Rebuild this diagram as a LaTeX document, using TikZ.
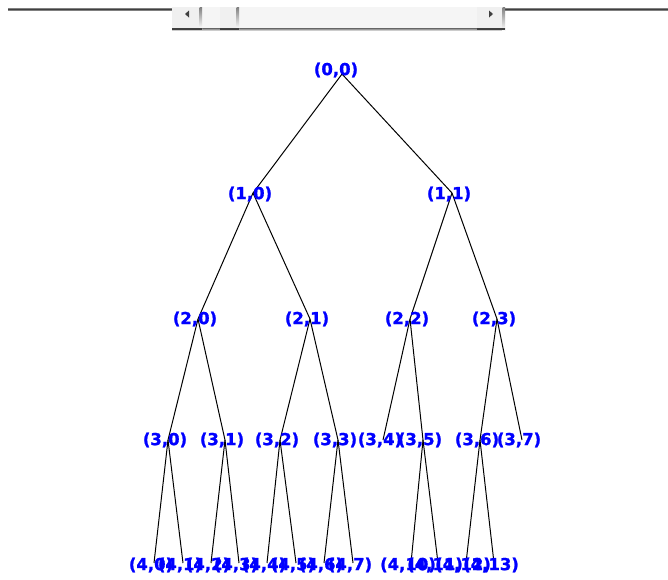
\documentclass[tikz,border=0pt]{standalone}
\usepackage{fontspec}
\newfontfamily\lblfont{DejaVu Sans Bold}[FakeBold=1.2]
\definecolor{lblblue}{RGB}{0,0,255}
\definecolor{track}{RGB}{245,245,245}
\definecolor{btn}{RGB}{240,240,240}
\definecolor{shade}{RGB}{128,128,128}
\definecolor{darkshade}{RGB}{64,64,64}
\begin{document}
\begin{tikzpicture}[x=1pt,y=-1pt,
  lbl/.style={text=lblblue,font=\lblfont\fontsize{16.5}{18}\selectfont,inner sep=0pt,anchor=center},
  edge/.style={draw=black,line width=1pt},
  rule/.style={line width=3pt,draw=shade},
  ruleinner/.style={line width=1.6pt,draw=darkshade},
  sbtn/.style={fill=btn,draw=none},
  arrowtip/.style={fill=darkshade,draw=none}]
\useasboundingbox (0,0) rectangle (668,579);
\fill[white] (0,0) rectangle (668,579);
% top rule and scroll bar
\coordinate (rl0) at (8,9.5);
\coordinate (rl1) at (172,9.5);
\coordinate (rr0) at (505,9.5);
\coordinate (rr1) at (668,9.5);
\draw[rule] (rl0) -- (rl1);
\draw[ruleinner] (rl0) -- (rl1);
\draw[rule] (rr0) -- (rr1);
\draw[ruleinner] (rr0) -- (rr1);
\fill[track] (172,7) rectangle (505,31);
\fill[shade] (172,28.5) rectangle (505,31);
% left button
\fill[sbtn] (172,7) rectangle (202,29);
\fill[shade] (199.5,7) rectangle (202,29);
\fill[darkshade] (172,28) rectangle (202,30);
\fill[arrowtip] (185,14) -- (189,10.5) -- (189,17.5) -- cycle;
% thumb
\fill[sbtn] (220,7) rectangle (239,29);
\fill[shade] (236.5,7) rectangle (239,29);
\fill[darkshade] (220,28) rectangle (239,30);
% right button
\fill[sbtn] (477,7) rectangle (505,29);
\fill[shade] (502.5,7) rectangle (505,31);
\fill[darkshade] (477,28) rectangle (505,30);
\fill[arrowtip] (493,14) -- (489,10.5) -- (489,17.5) -- cycle;

% tree node points
\coordinate (p00) at (342,74);
\coordinate (p10) at (253,193);
\coordinate (p11) at (452,193);
\coordinate (p20) at (198,319);
\coordinate (p21) at (310,319);
\coordinate (p22) at (410,319);
\coordinate (p23) at (497,319);
\coordinate (p30) at (168,440);
\coordinate (p31) at (225,440);
\coordinate (p32) at (280,440);
\coordinate (p33) at (338,440);
\coordinate (p34) at (383,440);
\coordinate (p35) at (423,440);
\coordinate (p36) at (480,440);
\coordinate (p37) at (522,440);
\coordinate (p40) at (154,563);
\coordinate (p41) at (183,563);
\coordinate (p42) at (211,563);
\coordinate (p43) at (239,563);
\coordinate (p44) at (267,563);
\coordinate (p45) at (296,563);
\coordinate (p46) at (324,563);
\coordinate (p47) at (353,563);
\coordinate (p410) at (411,563);
\coordinate (p411) at (438,563);
\coordinate (p412) at (466,563);
\coordinate (p413) at (494,563);

% edges
\draw[edge] (p00) -- (p10);
\draw[edge] (p00) -- (p11);
\draw[edge] (p10) -- (p20);
\draw[edge] (p10) -- (p21);
\draw[edge] (p11) -- (p22);
\draw[edge] (p11) -- (p23);
\draw[edge] (p20) -- (p30);
\draw[edge] (p20) -- (p31);
\draw[edge] (p21) -- (p32);
\draw[edge] (p21) -- (p33);
\draw[edge] (p22) -- (p34);
\draw[edge] (p22) -- (p35);
\draw[edge] (p23) -- (p36);
\draw[edge] (p23) -- (p37);
\draw[edge] (p30) -- (p40);
\draw[edge] (p30) -- (p41);
\draw[edge] (p31) -- (p42);
\draw[edge] (p31) -- (p43);
\draw[edge] (p32) -- (p44);
\draw[edge] (p32) -- (p45);
\draw[edge] (p33) -- (p46);
\draw[edge] (p33) -- (p47);
\draw[edge] (p35) -- (p410);
\draw[edge] (p35) -- (p411);
\draw[edge] (p36) -- (p412);
\draw[edge] (p36) -- (p413);

% labels
\node[lbl] (t00) at ([shift={(-6,-4)}]p00) {(0,0)};
\node[lbl] (t10) at ([shift={(-3,1)}]p10) {(1,0)};
\node[lbl] (t11) at ([shift={(-3,1)}]p11) {(1,1)};
\node[lbl] (t20) at ([shift={(-3,0)}]p20) {(2,0)};
\node[lbl] (t21) at ([shift={(-3,0)}]p21) {(2,1)};
\node[lbl] (t22) at ([shift={(-3,0)}]p22) {(2,2)};
\node[lbl] (t23) at ([shift={(-3,0)}]p23) {(2,3)};
\node[lbl] (t30) at ([shift={(-3,0)}]p30) {(3,0)};
\node[lbl] (t31) at ([shift={(-3,0)}]p31) {(3,1)};
\node[lbl] (t32) at ([shift={(-3,0)}]p32) {(3,2)};
\node[lbl] (t33) at ([shift={(-3,0)}]p33) {(3,3)};
\node[lbl] (t34) at ([shift={(-3,0)}]p34) {(3,4)};
\node[lbl] (t35) at ([shift={(-3,0)}]p35) {(3,5)};
\node[lbl] (t36) at ([shift={(-3,0)}]p36) {(3,6)};
\node[lbl] (t37) at ([shift={(-3,0)}]p37) {(3,7)};
\node[lbl] (t40) at ([shift={(-3,2)}]p40) {(4,0)};
\node[lbl] (t41) at ([shift={(-3,2)}]p41) {(4,1)};
\node[lbl] (t42) at ([shift={(-3,2)}]p42) {(4,2)};
\node[lbl] (t43) at ([shift={(-3,2)}]p43) {(4,3)};
\node[lbl] (t44) at ([shift={(-3,2)}]p44) {(4,4)};
\node[lbl] (t45) at ([shift={(-3,2)}]p45) {(4,5)};
\node[lbl] (t46) at ([shift={(-3,2)}]p46) {(4,6)};
\node[lbl] (t47) at ([shift={(-3,2)}]p47) {(4,7)};
\node[lbl] (t410) at ([shift={(-3,2)}]p410) {(4,10)};
\node[lbl] (t411) at ([shift={(-3,2)}]p411) {(4,11)};
\node[lbl] (t412) at ([shift={(-3,2)}]p412) {(4,12)};
\node[lbl] (t413) at ([shift={(-3,2)}]p413) {(4,13)};
\end{tikzpicture}
\end{document}
